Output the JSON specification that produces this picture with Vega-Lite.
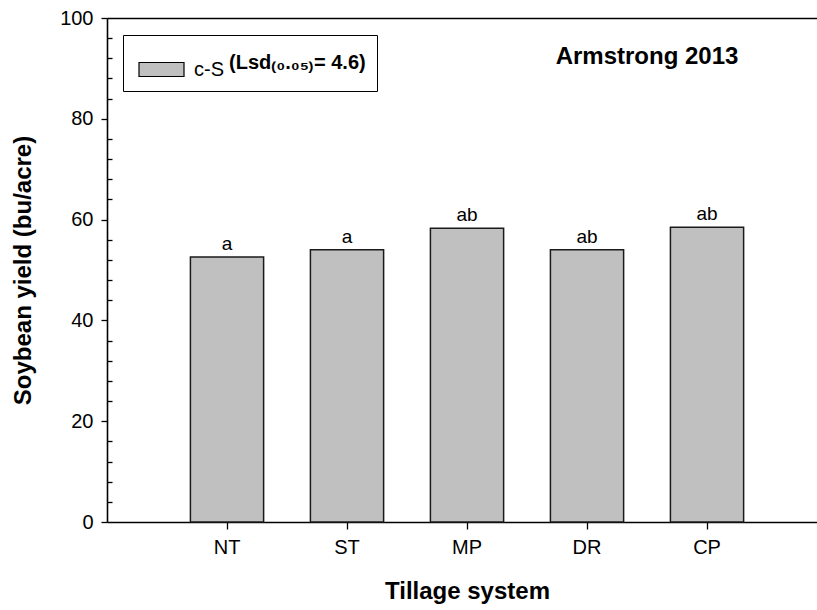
{
  "$schema": "https://vega.github.io/schema/vega-lite/v6.json",
  "width": 710,
  "height": 504,
  "autosize": {"type": "none"},
  "padding": {"left": 107, "top": 18, "right": 0, "bottom": 88},
  "background": "white",
  "config": {
    "font": "Liberation Sans",
    "view": {"stroke": null},
    "axis": {
      "domainColor": "black",
      "domainWidth": 1.6,
      "tickColor": "black",
      "tickWidth": 1.3,
      "labelColor": "black",
      "titleColor": "black",
      "labelFont": "Liberation Sans",
      "titleFont": "Liberation Sans",
      "grid": false
    }
  },
  "title": {
    "text": "Armstrong 2013",
    "anchor": "middle",
    "frame": "group",
    "dx": 185,
    "offset": -61,
    "fontSize": 24,
    "fontWeight": "bold",
    "color": "black",
    "font": "Liberation Sans"
  },
  "data": {
    "values": [
      {"tillage": "NT", "yield": 52.6, "group": "a", "series": "c-S"},
      {"tillage": "ST", "yield": 54.0, "group": "a", "series": "c-S"},
      {"tillage": "MP", "yield": 58.3, "group": "ab", "series": "c-S"},
      {"tillage": "DR", "yield": 54.0, "group": "ab", "series": "c-S"},
      {"tillage": "CP", "yield": 58.5, "group": "ab", "series": "c-S"}
    ]
  },
  "layer": [
    {
      "mark": {"type": "bar", "stroke": "#1a1a1a", "strokeWidth": 1.5},
      "encoding": {
        "x": {
          "field": "tillage",
          "type": "nominal",
          "sort": ["NT", "ST", "MP", "DR", "CP"],
          "scale": {"paddingInner": 0.39, "paddingOuter": 0.6533, "align": 0.532},
          "axis": {
            "orient": "bottom",
            "title": "Tillage system",
            "titleFontSize": 24,
            "titleFontWeight": "bold",
            "titleX": 360,
            "labelFontSize": 20,
            "labelAngle": 0,
            "tickSize": 7,
            "labelPadding": 8,
            "titlePadding": 22
          }
        },
        "y": {
          "field": "yield",
          "type": "quantitative",
          "scale": {"domain": [0, 100], "nice": false},
          "axis": {
            "orient": "left",
            "values": [0, 20, 40, 60, 80, 100],
            "tickSize": 6,
            "labelPadding": 8,
            "labelFontSize": 20,
            "title": "Soybean yield (bu/acre)",
            "titleFontSize": 24,
            "titleFontWeight": "bold",
            "titlePadding": 24
          }
        },
        "fill": {
          "field": "series",
          "type": "nominal",
          "scale": {"range": ["#c0c0c0"]},
          "legend": {
            "orient": "none",
            "legendX": 16,
            "legendY": 17,
            "title": "(Lsd₍₀.₀₅₎= 4.6)",
            "titleOrient": "right",
            "titleFontSize": 20,
            "titleFontWeight": "bold",
            "titleColor": "black",
            "titlePadding": 5,
            "strokeColor": "black",
            "fillColor": "white",
            "padding": 11,
            "symbolType": "M-1,-0.311L1,-0.311L1,0.311L-1,0.311Z",
            "symbolSize": 2025,
            "symbolStrokeColor": "black",
            "symbolStrokeWidth": 1.2,
            "symbolOffset": 4,
            "labelFontSize": 20,
            "labelOffset": 9,
            "labelColor": "black"
          }
        }
      }
    },
    {
      "mark": {"type": "text", "baseline": "alphabetic", "dy": -7, "fontSize": 19, "color": "black"},
      "encoding": {
        "x": {
          "field": "tillage",
          "type": "nominal",
          "sort": ["NT", "ST", "MP", "DR", "CP"],
          "axis": {"orient": "top", "ticks": false, "labels": false, "title": null, "domain": true}
        },
        "y": {
          "field": "yield",
          "type": "quantitative",
          "axis": {
            "orient": "left",
            "values": [4, 8, 12, 16, 24, 28, 32, 36, 44, 48, 52, 56, 64, 68, 72, 76, 84, 88, 92, 96],
            "tickSize": -5,
            "labels": false,
            "domain": false,
            "title": null
          }
        },
        "text": {"field": "group"}
      }
    }
  ],
  "resolve": {"axis": {"x": "independent", "y": "independent"}}
}
